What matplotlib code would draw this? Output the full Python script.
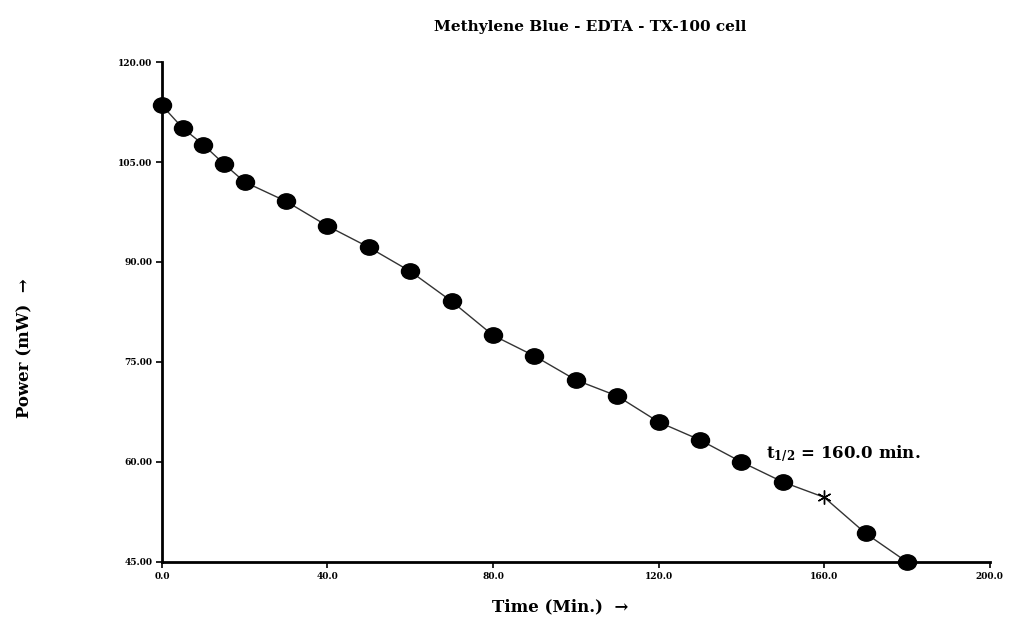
import matplotlib
matplotlib.use("Agg")
import matplotlib.pyplot as plt
from matplotlib.path import Path
import numpy as np

# datos
tiempo = [0, 5, 10, 15, 20, 30, 40, 50, 60, 70, 80, 90, 100, 110, 120, 130, 140, 150, 170, 180]
potencia = [113.5, 110.1, 107.6, 104.7, 102.0, 99.1, 95.4, 92.2, 88.6, 84.1, 79.0, 75.9, 72.3, 69.9, 66.0, 63.3, 60.0, 57.0, 49.3, 45.0]
t_medio = 160
p_medio = 54.7
xticks = [0, 40, 80, 120, 160, 200]
yticks = [45, 60, 75, 90, 105, 120]

plt.rcParams['font.family'] = 'DejaVu Serif'
plt.rcParams['mathtext.fontset'] = 'dejavuserif'

# marcador eliptico (un poco mas ancho que alto)
circulo = Path.unit_circle()
elipse = Path(circulo.vertices * np.array([1.0, 0.85]), circulo.codes)

fig = plt.figure(figsize=(10.12, 6.22), dpi=100)
ax = fig.add_axes([0.160, 0.0965, 0.818, 0.8038])

# linea completa incluyendo el punto t1/2
xs = tiempo[:18] + [t_medio] + tiempo[18:]
ys = potencia[:18] + [p_medio] + potencia[18:]
ax.plot(xs, ys, color="#333333", linewidth=1, zorder=1)
ax.plot(tiempo, potencia, linestyle="none", marker=elipse, markersize=13,
        color="black", zorder=2, clip_on=False)
ax.plot([t_medio], [p_medio], linestyle="none", marker=(6, 2, 0), markersize=10,
        color="black", markeredgewidth=1, zorder=2)

ax.set_xlim(0, 200)
ax.set_ylim(45, 120)
ax.set_xticks(xticks)
ax.set_yticks(yticks)
ax.set_xticklabels([f"{v:.1f}" for v in xticks], fontsize=6.5, fontweight="bold")
ax.set_yticklabels([f"{v:.2f}" for v in yticks], fontsize=6.5, fontweight="bold")
ax.tick_params(direction="out", length=4, width=1.2, pad=3)
ax.spines['top'].set_visible(False)
ax.spines['right'].set_visible(False)
ax.spines['left'].set_linewidth(2)
ax.spines['bottom'].set_linewidth(2)

ax.text(146, 60.5, r"$\mathbf{t_{1/2}}$ = 160.0 min.", fontsize=12, fontweight="bold")

fig.text(590 / 1012, 1 - 27 / 622, "Methylene Blue - EDTA - TX-100 cell",
         ha="center", va="center", fontsize=11, fontweight="bold")
fig.text(560 / 1012, 1 - 607 / 622, "Time (Min.)  \u2192",
         ha="center", va="center", fontsize=12, fontweight="bold")
fig.text(25 / 1012, 1 - 348 / 622, "Power (mW)  \u2192", rotation=90,
         ha="center", va="center", fontsize=12, fontweight="bold")

fig.savefig("out.png", dpi=100)
